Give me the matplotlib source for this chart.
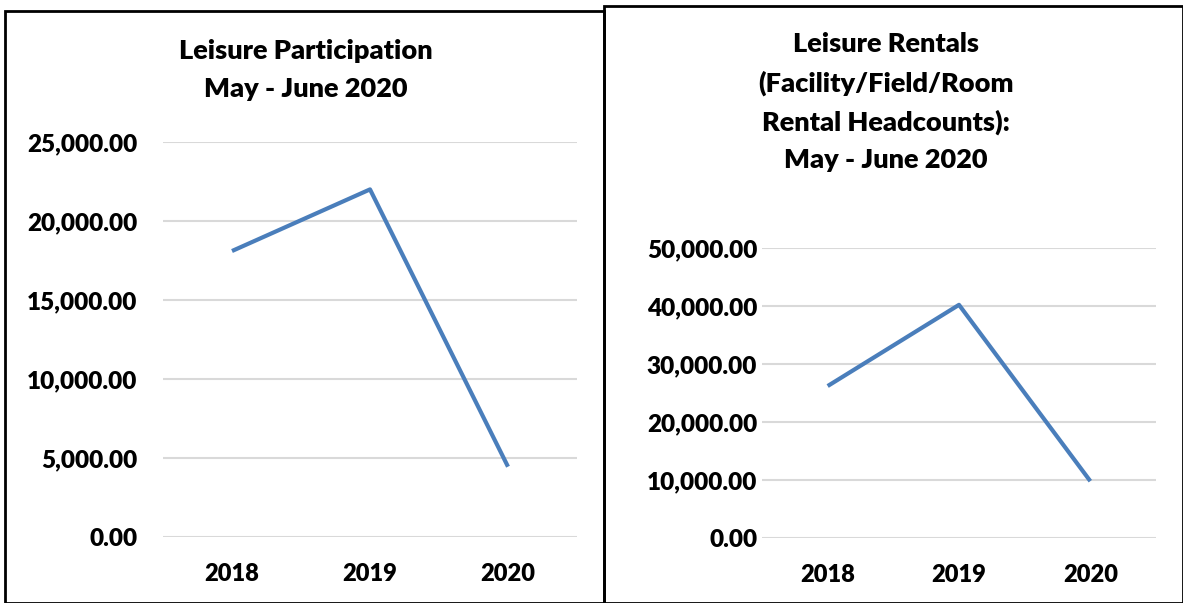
# Two Excel-style line charts: leisure participation and rentals, May-June 2018-2020

import matplotlib.pyplot as plt
from matplotlib.patches import Rectangle
from matplotlib.ticker import FuncFormatter, MultipleLocator

plt.rcParams["font.family"] = ["Lato", "DejaVu Sans"]
plt.rcParams["font.weight"] = "heavy"

# ── Data ──────────────────────────────────────────────────────────────────────
years = ["2018", "2019", "2020"]
participation = [18100, 22000, 4450]
rentals = [26200, 40200, 9800]

W, H = 1183, 603
LINE_COLOR = "#4A7EBB"
GRID_COLOR = "#D9D9D9"

fig = plt.figure(figsize=(W / 100, H / 100), dpi=100)


def px_axes(x0, y_top, x1, y_bot):
    return fig.add_axes([x0 / W, 1 - y_bot / H, (x1 - x0) / W, (y_bot - y_top) / H])


def style(ax, ymax, step, ypad):
    ax.set_xlim(-0.5, 2.5)
    ax.set_ylim(0, ymax)
    ax.yaxis.set_major_locator(MultipleLocator(step))
    ax.yaxis.set_major_formatter(FuncFormatter(lambda v, _: f"{v:,.2f}"))
    ax.grid(axis="y", color=GRID_COLOR, linewidth=1.5)
    ax.set_axisbelow(True)
    for s in ax.spines.values():
        s.set_visible(False)
    ax.tick_params(axis="y", length=0, labelsize=17.5, pad=ypad)
    ax.tick_params(axis="x", length=0, labelsize=17, pad=19)


# ── Panel borders ─────────────────────────────────────────────────────────────
fig.patches.append(Rectangle((5 / W, 0), 599 / W, 1 - 11 / H, transform=fig.transFigure,
                             fill=False, edgecolor="black", linewidth=2))
fig.patches.append(Rectangle((604 / W, 0), 579 / W, 1 - 6 / H, transform=fig.transFigure,
                             fill=False, edgecolor="black", linewidth=2))

# ── Left chart ────────────────────────────────────────────────────────────────
ax = px_axes(163, 142, 577, 537)
ax.plot(years, participation, color=LINE_COLOR, linewidth=3, solid_capstyle="butt")
style(ax, 25000, 5000, 18.5)
fig.text(306 / W, 1 - 70 / H, "Leisure Participation\nMay - June 2020",
         ha="center", va="center", fontsize=19.5, linespacing=1.7)

# ── Right chart ───────────────────────────────────────────────────────────────
ax = px_axes(762, 248, 1156, 538)
ax.plot(years, rentals, color=LINE_COLOR, linewidth=3, solid_capstyle="butt")
style(ax, 50000, 10000, 3.5)
fig.text(886 / W, 1 - 102 / H,
         "Leisure Rentals\n(Facility/Field/Room\nRental Headcounts):\nMay - June 2020",
         ha="center", va="center", fontsize=19.5, linespacing=1.65)

plt.savefig("out.png", dpi=100)
plt.close()
